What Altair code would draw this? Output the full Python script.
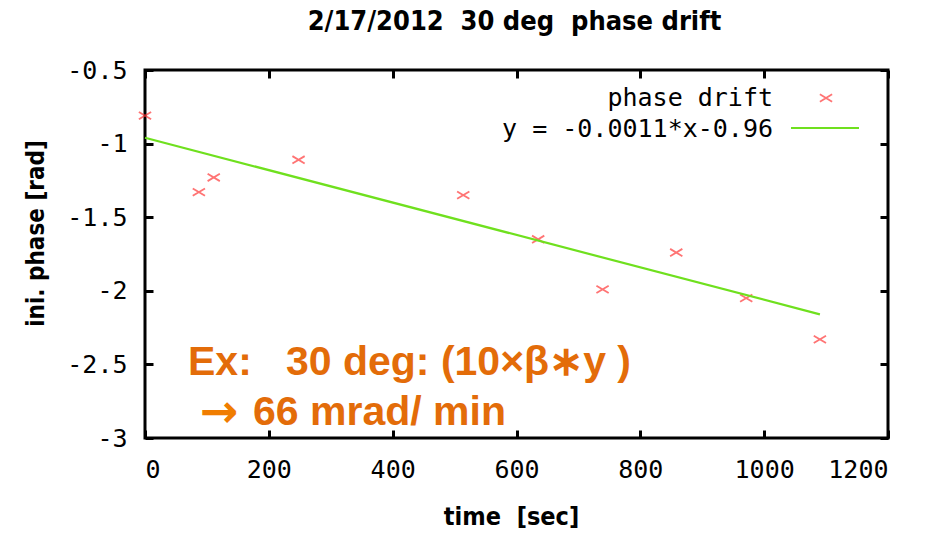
import altair as alt
import pandas as pd

# data
time_sec = [0, 87, 111, 248, 514, 635, 739, 858, 971, 1090]
phase_rad = [-0.81, -1.33, -1.23, -1.11, -1.35, -1.65, -1.99, -1.74, -2.05, -2.33]
fit_x = [0, 1090]
fit_y = [-0.96, -2.16]
x_ticks = [0, 200, 400, 600, 800, 1000, 1200]
y_ticks = [-0.5, -1.0, -1.5, -2.0, -2.5, -3.0]

NB = "\u00a0"
title_text = f"2/17/2012{NB}{NB}30 deg{NB}{NB}phase drift"
x_title = f"time{NB}{NB}[sec]"
y_title = "ini. phase [rad]"
legend_labels = ["phase drift", "y = -0.0011*x-0.96"]
note_line1 = f"Ex:{NB}{NB}{NB}30 deg: (10\u00d7\u03b2\u2217y )"
note_arrow = "\u2192"
note_line2 = "66 mrad/ min"

W, H = 743, 368
TICK_FONT = "DejaVu Sans Mono"
RED = "#ff3a3a"
GREEN = "#6fe01e"
ORANGE = "#e36c09"

pts = pd.DataFrame({"t": time_sec, "p": phase_rad})
fit = pd.DataFrame({"t": fit_x, "p": fit_y})

xs = alt.Scale(domain=[0, 1200], nice=False, zero=False)
ys = alt.Scale(domain=[-3, -0.5], nice=False, zero=False)

common_axis = dict(
    offset=-8, tickSize=8, tickWidth=3, tickColor="black", domain=False,
    grid=False, labelFont=TICK_FONT, labelFontSize=25, labelColor="black",
)

x_bottom = alt.Axis(
    orient="bottom", values=x_ticks, format="d", labelPadding=19,
    title=x_title, titleX=366, titleY=86, titleFont="DejaVu Sans Condensed",
    titleFontSize=25, titleFontWeight="bold", titleColor="black",
    titleAlign="center", titleBaseline="middle", **common_axis,
)
y_left = alt.Axis(
    orient="left", values=y_ticks, format="~g",
    labelExpr="replace(datum.label, '\u2212', '-')", labelPadding=18,
    title=y_title, titleX=-117, titleY=163, titleFont="DejaVu Sans Condensed",
    titleFontSize=24, titleFontWeight="bold", titleColor="black",
    titleAlign="center", titleBaseline="middle", titleAngle=-90, **common_axis,
)
x_top = alt.Axis(orient="top", values=x_ticks, labels=False, title=None, **common_axis)
y_right = alt.Axis(orient="right", values=y_ticks, labels=False, title=None, **common_axis)

cross = "M-1,-0.6L1,0.6M-1,0.6L1,-0.6"

points = alt.Chart(pts).mark_point(
    shape=cross, size=150, color=RED, strokeWidth=1.8, filled=False
).encode(
    x=alt.X("t:Q", scale=xs, axis=x_bottom),
    y=alt.Y("p:Q", scale=ys, axis=y_left),
)

line = alt.Chart(fit).mark_line(color=GREEN, strokeWidth=2.2).encode(
    x=alt.X("t:Q", scale=xs, axis=x_top),
    y=alt.Y("p:Q", scale=ys, axis=y_right),
)

one = pd.DataFrame({"a": [0]})

title = alt.Chart(pd.DataFrame({"txt": [title_text]})).mark_text(
    font="DejaVu Sans Condensed", fontSize=27, fontWeight="bold", color="black",
    align="center", baseline="alphabetic",
).encode(x=alt.value(W / 2 - 2), y=alt.value(-40), text="txt:N")

leg_text = alt.Chart(pd.DataFrame({"txt": legend_labels, "yy": [36, 67]})).mark_text(
    font=TICK_FONT, fontSize=25, color="black", align="right", baseline="alphabetic",
).encode(x=alt.value(628), y=alt.Y("yy:Q", scale=None), text="txt:N")

leg_pt = alt.Chart(one).mark_point(
    shape=cross, size=150, color=RED, strokeWidth=1.8, filled=False
).encode(x=alt.value(681), y=alt.value(28))

leg_line = alt.Chart(one).mark_rule(color=GREEN, strokeWidth=2.2).encode(
    x=alt.value(646), x2=alt.value(714), y=alt.value(58)
)

note = alt.Chart(pd.DataFrame({"txt": [note_line1, note_line2], "xx": [43, 108], "yy": [305, 355]})).mark_text(
    font="Liberation Sans", fontSize=41, fontWeight="bold", color=ORANGE,
    align="left", baseline="alphabetic",
).encode(x=alt.X("xx:Q", scale=None), y=alt.Y("yy:Q", scale=None), text="txt:N")

arrow = alt.Chart(pd.DataFrame({"txt": [note_arrow]})).mark_text(
    font="DejaVu Sans", fontSize=46, fontWeight="bold", color="#f07d00",
    align="left", baseline="middle",
).encode(x=alt.value(55), y=alt.value(343), text="txt:N")

chart = alt.layer(points, line, title, leg_text, leg_pt, leg_line, note, arrow).resolve_axis(
    x="independent", y="independent"
).properties(
    width=W, height=H,
    autosize=alt.AutoSizeParams(type="none"),
    padding={"left": 137, "top": 62, "right": 42, "bottom": 92},
    background="white",
).configure_view(stroke="black", strokeWidth=3)

chart.save("out.html", embed_options={"renderer": "svg", "actions": False})
